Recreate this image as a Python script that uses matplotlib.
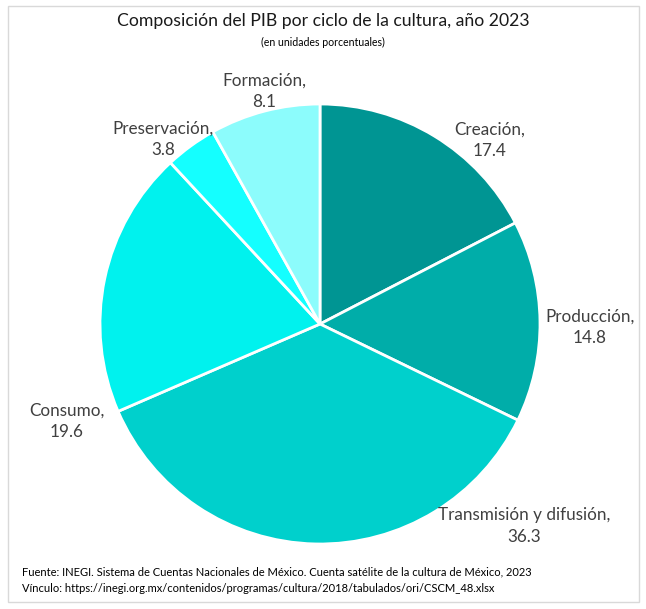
import matplotlib.pyplot as plt
from matplotlib.patches import Rectangle

# data
categories = ['Creación', 'Producción', 'Transmisión y difusión', 'Consumo', 'Preservación', 'Formación']
values = [17.4, 14.8, 36.3, 19.6, 3.8, 8.1]
colors = ['#009593', '#00ADA9', '#00D0CC', '#00F2EE', '#14FFFF', '#8CFCFC']

# label centres in pixel coordinates of the 646x609 image
label_px = [(490, 140), (590, 327), (524, 526), (67, 421), (163, 139), (264, 91)]

W, H = 646, 609
cx, cy, r = 320, 324, 220

fig = plt.figure(figsize=(W / 100, H / 100), dpi=100)
plt.rcParams['font.family'] = ['Lato', 'DejaVu Sans']

# outer frame
fig.patches.append(Rectangle((8 / W, 7 / H), 631 / W, 596 / H, transform=fig.transFigure,
                             fill=False, edgecolor='#d9d9d9', linewidth=1))

ax = fig.add_axes([(cx - r) / W, (H - cy - r) / H, 2 * r / W, 2 * r / H])
ax.pie(values, colors=colors, startangle=90, counterclock=False, radius=1,
       wedgeprops=dict(edgecolor='white', linewidth=2))
ax.set_xlim(-1, 1)
ax.set_ylim(-1, 1)
ax.axis('off')

for name, val, (px, py) in zip(categories, values, label_px):
    ax.text((px - cx) / r, (cy - py) / r, f'{name},\n{val}', ha='center', va='center',
            fontsize=12.3, color='#404040', linespacing=1.4, clip_on=False)

fig.text(0.5, 1 - 21 / H, 'Composición del PIB por ciclo de la cultura, año 2023',
         ha='center', va='center', fontsize=12.7, color='#1a1a1a')
fig.text(0.5, 1 - 42 / H, '(en unidades porcentuales)',
         ha='center', va='center', fontsize=7.6, color='black')

fig.text(22 / W, 1 - 572 / H,
         'Fuente: INEGI. Sistema de Cuentas Nacionales de México. Cuenta satélite de la cultura de México, 2023',
         ha='left', va='center', fontsize=8, color='black')
fig.text(22 / W, 1 - 589 / H,
         'Vínculo: https://inegi.org.mx/contenidos/programas/cultura/2018/tabulados/ori/CSCM_48.xlsx',
         ha='left', va='center', fontsize=8, color='black')

fig.savefig('out.png', dpi=100)
